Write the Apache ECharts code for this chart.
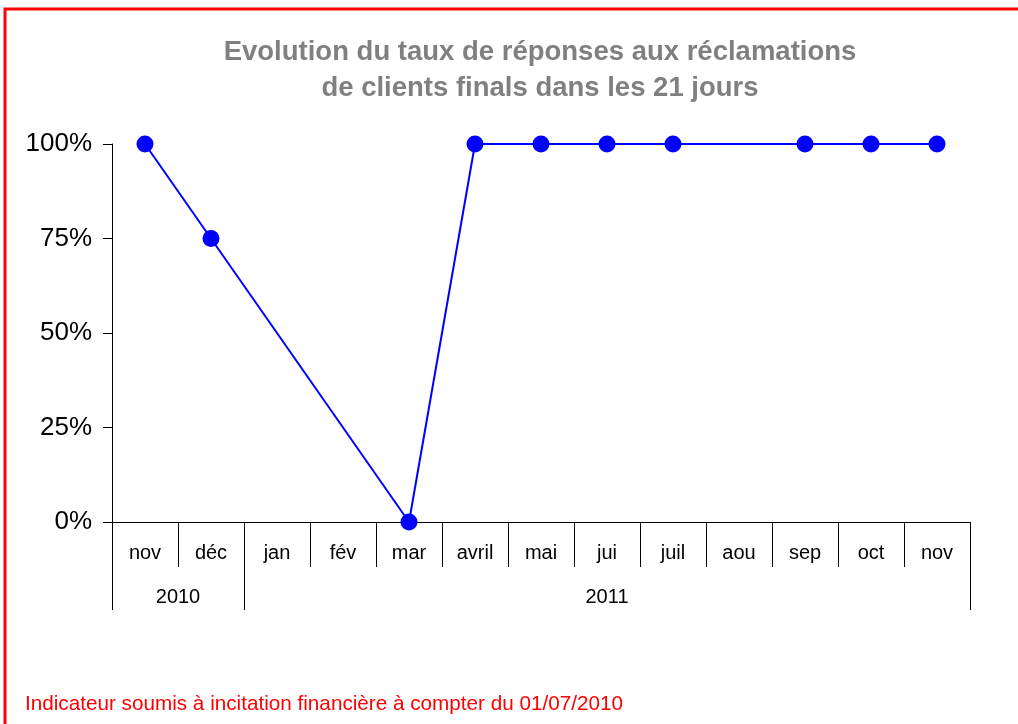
<!DOCTYPE html>
<html>
<head>
<meta charset="utf-8">
<script src="https://cdn.jsdelivr.net/npm/echarts@6/dist/echarts.min.js"></script>
<style>
html, body { margin: 0; padding: 0; background: #fff; }
#main { width: 1018px; height: 724px; }
</style>
</head>
<body>
<div id="main"></div>
<script>
// mois affichés sur l'axe
var months = ['nov', 'déc', 'jan', 'fév', 'mar', 'avril', 'mai', 'jui', 'juil', 'aou', 'sep', 'oct', 'nov'];
// taux de réponses (%), null = pas de valeur
var rates = [100, 75, null, null, 0, 100, 100, 100, 100, null, 100, 100, 100];
// années et nombre de mois couverts
var years = ['2010', '2011'];
var yearSpans = [2, 11];
var yTicks = [0, 25, 50, 75, 100];

// axe des années : demi-pas, libellé au milieu de chaque année
var yearAxisData = [];
for (var i = 0; i <= months.length * 2; i++) yearAxisData.push('');
var yearBounds = [0];
var pos = 0;
years.forEach(function (y, k) {
    yearAxisData[pos * 2 + yearSpans[k]] = y;
    pos += yearSpans[k];
    yearBounds.push(pos * 2);
});

var font = 'Liberation Sans, Arial, sans-serif';

var option = {
    animation: false,
    backgroundColor: '#fff',
    title: [{
        text: 'Evolution du taux de réponses aux réclamations\nde clients finals dans les 21 jours',
        left: 540,
        top: 34,
        padding: 0,
        textAlign: 'center',
        textStyle: {
            color: '#808080',
            fontFamily: font,
            fontSize: 27.5,
            fontWeight: 'bold',
            lineHeight: 36
        }
    }, {
        text: 'Indicateur soumis à incitation financière à compter du 01/07/2010',
        left: 25,
        top: 694,
        padding: 0,
        textStyle: {
            color: '#ff0000',
            fontFamily: font,
            fontSize: 20.7,
            fontWeight: 'normal'
        }
    }],
    graphic: [{
        type: 'rect',
        shape: { x: 5, y: 9, width: 1100, height: 800 },
        style: { fill: 'none', stroke: '#ff0000', lineWidth: 3 },
        silent: true
    }],
    grid: { left: 112, right: 48, top: 144, bottom: 202 },
    xAxis: [{
        type: 'category',
        data: months,
        position: 'bottom',
        boundaryGap: true,
        axisLine: { lineStyle: { color: '#000', width: 1 } },
        axisTick: { show: true, interval: 0, alignWithLabel: false, length: 45, lineStyle: { color: '#000', width: 1 } },
        axisLabel: { interval: 0, margin: 21, color: '#000', fontFamily: font, fontSize: 20 },
        splitLine: { show: false }
    }, {
        type: 'category',
        data: yearAxisData,
        position: 'bottom',
        offset: 0,
        boundaryGap: false,
        axisLine: { show: false },
        axisTick: {
            show: true,
            interval: function (idx) { return yearBounds.indexOf(idx) >= 0; },
            length: 88,
            lineStyle: { color: '#000' }
        },
        axisLabel: {
            interval: function (idx, val) { return val !== ''; },
            margin: 65,
            color: '#000',
            fontFamily: font,
            fontSize: 20
        },
        splitLine: { show: false }
    }],
    yAxis: {
        type: 'value',
        min: yTicks[0],
        max: yTicks[yTicks.length - 1],
        interval: 25,
        axisLine: { show: true, lineStyle: { color: '#000', width: 1 } },
        axisTick: { show: true, length: 9, lineStyle: { color: '#000' } },
        axisLabel: { margin: 20, color: '#000', fontFamily: font, fontSize: 26, formatter: '{value}%' },
        splitLine: { show: false }
    },
    series: [{
        type: 'line',
        data: rates,
        xAxisIndex: 0,
        connectNulls: true,
        symbol: 'circle',
        symbolSize: 17,
        lineStyle: { color: '#0000ff', width: 2 },
        itemStyle: { color: '#0000ff' }
    }]
};

var chart = echarts.init(document.getElementById('main'));
chart.setOption(option);
</script>
</body>
</html>
